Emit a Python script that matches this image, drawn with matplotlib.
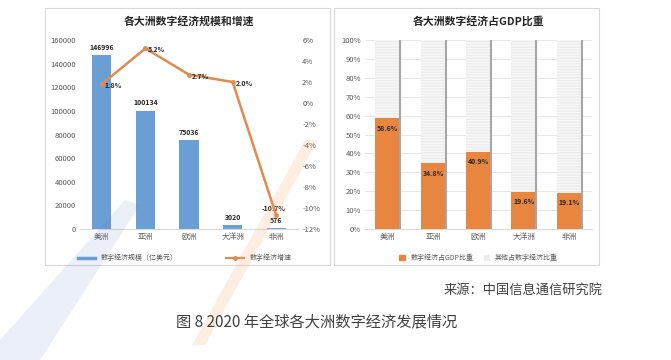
import numpy as np
import matplotlib.pyplot as plt
import matplotlib.patches as mpatches
from matplotlib.lines import Line2D

plt.rcParams['font.family'] = ['Noto Sans CJK SC', 'DejaVu Sans']

regions = ['美洲', '亚洲', '欧洲', '大洋洲', '非洲']
scale = [146996, 100134, 75036, 3020, 576]          # 亿美元
growth = [1.8, 5.2, 2.7, 2.0, -10.7]                # %
share = [58.6, 34.8, 40.9, 19.6, 19.1]              # % of GDP

W, H = 671, 360
fig = plt.figure(figsize=(W / 100, H / 100), dpi=100)


def box(x0, y0, x1, y1):
    # pixel coords (top-left origin) -> figure fraction
    return [x0 / W, 1 - y1 / H, (x1 - x0) / W, (y1 - y0) / H]


def poly(pts, **kw):
    pts = [(px / W, 1 - py / H) for px, py in pts]
    fig.patches.append(mpatches.Polygon(pts, closed=True, transform=fig.transFigure, **kw))


# panel frames
for x0, y0, x1, y1 in [(45, 8, 330, 265), (334, 8, 599, 265)]:
    b = box(x0, y0, x1, y1)
    fig.patches.append(mpatches.Rectangle((b[0], b[1]), b[2], b[3], transform=fig.transFigure,
                                          fill=False, ec='#d9d9d9', lw=0.8))

tick_kw = dict(labelsize=5.5, colors='#595959', length=0, pad=3)
blue = '#6a9fd6'
orange = '#e08b4f'

# ---- left chart: scale + growth
ax = fig.add_axes(box(80, 40, 298, 229))
x = np.arange(len(regions))
ax.bar(x, scale, width=0.44, color=blue)
ax.set_ylim(0, 160000)
ax.set_yticks(range(0, 160001, 20000))
ax.set_xlim(-0.5, 4.5)
ax.set_xticks(x, regions)
ax.tick_params(**tick_kw)
for s in ['top', 'right', 'left']:
    ax.spines[s].set_visible(False)
ax.spines['bottom'].set_color('#d9d9d9')
for xi, v in zip(x, scale):
    ax.annotate(str(v), (xi, v), xytext=(0, 4), textcoords='offset points',
                ha='center', fontsize=5, fontweight='bold', color='#262626')

ax2 = ax.twinx()
ax2.plot(x, growth, color=orange, lw=1.8, marker='o', ms=2.5)
ax2.set_ylim(-12, 6)
ax2.set_yticks(range(-12, 7, 2))
ax2.set_yticklabels([f'{t}%' for t in range(-12, 7, 2)])
ax2.tick_params(**tick_kw)
for s in ax2.spines.values():
    s.set_visible(False)
for xi, v in zip(x, growth):
    ax2.annotate(f'{v}%', (xi, v), xytext=(2, -1) if v > -5 else (-2, 5), textcoords='offset points',
                 ha='left' if v > -5 else 'center', va='center', fontsize=5, fontweight='bold',
                 color='#262626')
ax.set_title('各大洲数字经济规模和增速', fontsize=7.8, fontweight='bold', color='#262626', pad=11)
handles = [Line2D([], [], color=blue, lw=2.5),
           Line2D([], [], color=orange, lw=1.5, marker='o', ms=2.5)]
ax.legend(handles, ['数字经济规模（亿美元）', '数字经济增速'], loc='upper center',
          bbox_to_anchor=(0.48, -0.1), ncol=2, frameon=False, fontsize=5,
          handlelength=2.5, columnspacing=7, labelcolor='#595959')

# ---- right chart: share of GDP
bx = fig.add_axes(box(365, 40, 592, 229))
other = [100 - v for v in share]
bw = 0.55
bx.bar(x, share, width=bw, color='#e8863f', zorder=3)
bx.bar(x, other, bottom=share, width=bw, color='#ececec', hatch='------',
       edgecolor='#f8f8f8', lw=0, zorder=3)
bx.vlines(x + bw / 2, 0, 100, color='#a6a6a6', lw=1.5, zorder=3)
bx.set_ylim(0, 100)
bx.set_yticks(range(0, 101, 10))
bx.set_yticklabels([f'{t}%' for t in range(0, 101, 10)])
bx.set_xlim(-0.5, 4.5)
bx.set_xticks(x, regions)
bx.tick_params(**tick_kw)
bx.grid(axis='y', color='#e3e3e3', lw=0.6, zorder=0)
for s in ['top', 'right', 'left']:
    bx.spines[s].set_visible(False)
bx.spines['bottom'].set_color('#d9d9d9')
for xi, v in zip(x, share):
    bx.annotate(f'{v}%', (xi, v), xytext=(0, -9), textcoords='offset points',
                ha='center', fontsize=5, fontweight='bold', color='#262626', zorder=4)
bx.set_title('各大洲数字经济占GDP比重', fontsize=7.8, fontweight='bold', color='#262626', pad=11)
bhandles = [mpatches.Patch(color='#e8863f'), mpatches.Patch(color='#ececec')]
bx.legend(bhandles, ['数字经济占GDP比重', '其他占数字经济比重'], loc='upper center',
          bbox_to_anchor=(0.5, -0.1), ncol=2, frameon=False, fontsize=5,
          handlelength=0.8, handleheight=0.8, columnspacing=1.5, labelcolor='#595959')

# footer
fig.text(603 / W, 1 - 290 / H, '来源：中国信息通信研究院', ha='right', va='center',
         fontsize=9.5, color='#404040')
fig.text(176 / W, 1 - 322 / H, '图 8 2020 年全球各大洲数字经济发展情况', ha='left', va='center',
         fontsize=11, color='#404040')

# faint watermark strokes
poly([(305, 140), (318, 140), (205, 345), (192, 345)], fc='#f5a35c', alpha=0.18, lw=0)
poly([(0, 340), (0, 360), (40, 360), (140, 205), (125, 200)], fc='#5b7fc4', alpha=0.12, lw=0)

fig.savefig('out.png', dpi=100)
